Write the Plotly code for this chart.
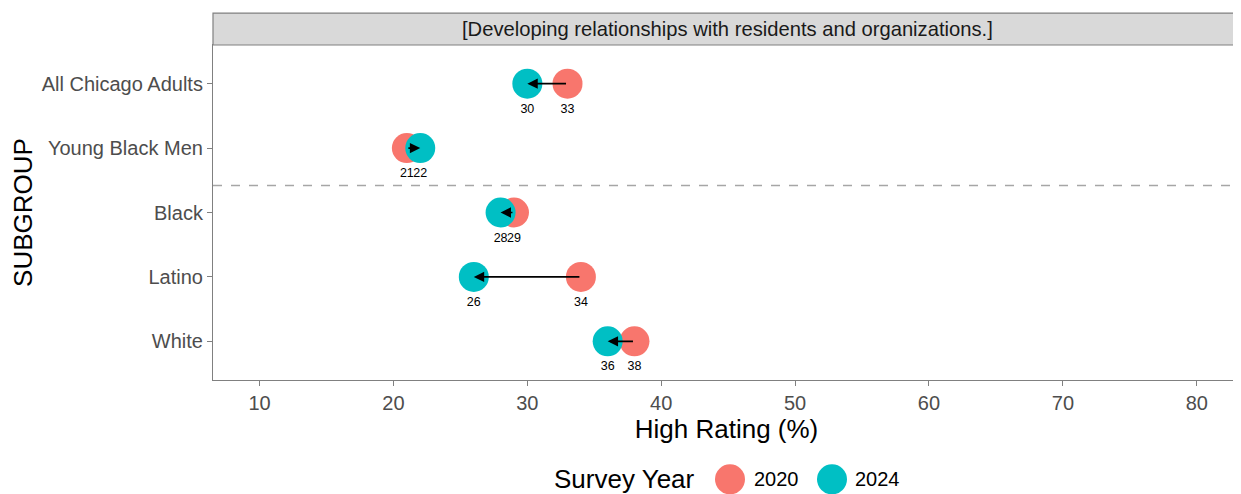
import plotly.graph_objects as go

subgroups = ["All Chicago Adults", "Young Black Men", "Black", "Latino", "White"]
vals_2020 = [33, 21, 29, 34, 38]
vals_2024 = [30, 22, 28, 26, 36]
years = ["2020", "2024"]
colors = {"2020": "#F8766D", "2024": "#00BFC4"}
x_ticks = [10, 20, 30, 40, 50, 60, 70, 80]
facet_title = "[Developing relationships with residents and organizations.]"
legend_title = "Survey Year"
divider_pos = 3.42  # between Young Black Men and Black

FONT = "Liberation Sans, Arial, sans-serif"
OFF = 8  # page body margin
W, H = 1241 - OFF, 494 - OFF
# panel edges in screen pixels
PL, PR, PT, PB = 213, 1240, 45, 380.5
PW, PH = PR - PL, PB - PT

def px2x(px):
    return (px - PL) / PW

def py2y(py):
    return (PB - py) / PH

ypos = {s: len(subgroups) - i for i, s in enumerate(subgroups)}
yv = [ypos[s] for s in subgroups]

fig = go.Figure()
for yr, vals in zip(years, [vals_2020, vals_2024]):
    fig.add_trace(go.Scatter(
        x=vals, y=yv, mode="markers+text", name=yr,
        marker=dict(size=30, color=colors[yr], line=dict(width=0)),
        text=[str(v) for v in vals], textposition="bottom center",
        textfont=dict(size=12.5, color="#000000", family=FONT),
        cliponaxis=False, showlegend=False,
    ))

for s, a, b in zip(subgroups, vals_2020, vals_2024):
    fig.add_annotation(x=b, y=ypos[s], ax=a, ay=ypos[s], xref="x", yref="y",
                       axref="x", ayref="y", showarrow=True, arrowhead=2,
                       arrowsize=1.3, arrowwidth=1.6, arrowcolor="#000000",
                       standoff=0, startstandoff=0, text="")

fig.add_shape(type="line", xref="paper", x0=0, x1=1, yref="y",
              y0=divider_pos, y1=divider_pos,
              line=dict(color="#a6a6a6", width=1.5, dash="dash"))

# facet strip (extends past the right edge, as in the reference)
fig.add_shape(type="rect", xref="paper", yref="paper", x0=0, x1=px2x(1250),
              y0=1, y1=py2y(13), fillcolor="#d9d9d9",
              line=dict(color="#808080", width=1.2))
fig.add_annotation(xref="paper", yref="paper", x=px2x(727.5), y=py2y(29),
                   text=facet_title, showarrow=False,
                   font=dict(size=20.2, color="#1a1a1a", family=FONT), yanchor="middle")

# custom legend
ly = py2y(480)
fig.add_annotation(xref="paper", yref="paper", x=px2x(697), y=ly, xanchor="right",
                   yanchor="middle", text=legend_title, showarrow=False,
                   font=dict(size=26, color="#000000", family=FONT))
for yr, cx, tx in zip(years, [730, 832], [752, 853]):
    fig.add_shape(type="circle", xref="paper", yref="paper",
                  xsizemode="pixel", ysizemode="pixel",
                  xanchor=px2x(cx), yanchor=ly, x0=-15, x1=15, y0=-15, y1=15,
                  fillcolor=colors[yr], line=dict(width=0))
    fig.add_annotation(xref="paper", yref="paper", x=px2x(tx), y=ly, xanchor="left",
                       yanchor="middle", text=yr, showarrow=False,
                       font=dict(size=20, color="#000000", family=FONT))

fig.update_layout(
    width=W, height=H,
    margin=dict(l=PL - OFF, r=1241 - PR, t=PT - OFF, b=494 - PB, autoexpand=False),
    paper_bgcolor="white", plot_bgcolor="white",
    font=dict(family=FONT, color="#000000"),
    showlegend=False,
)
fig.update_xaxes(range=[6.52, 83.23], tickvals=x_ticks, ticks="outside", ticklen=5,
                 tickcolor="#808080", showgrid=False, zeroline=False, automargin=False,
                 showline=True, linecolor="#808080", linewidth=1.2, mirror=True,
                 tickfont=dict(size=20, color="#4d4d4d", family=FONT),
                 title=dict(text="High Rating (%)", font=dict(size=26, color="#000000", family=FONT), standoff=6))
fig.update_yaxes(range=[0.4, 5.6], tickvals=yv, ticktext=subgroups, ticks="outside",
                 ticklen=5, tickcolor="#808080", showgrid=False, zeroline=False, automargin=False,
                 showline=True, linecolor="#808080", linewidth=1.2, mirror=False,
                 tickfont=dict(size=20, color="#4d4d4d", family=FONT),
                 title=dict(text="SUBGROUP", font=dict(size=26, color="#000000", family=FONT), standoff=6))

fig.write_html("out.html")
